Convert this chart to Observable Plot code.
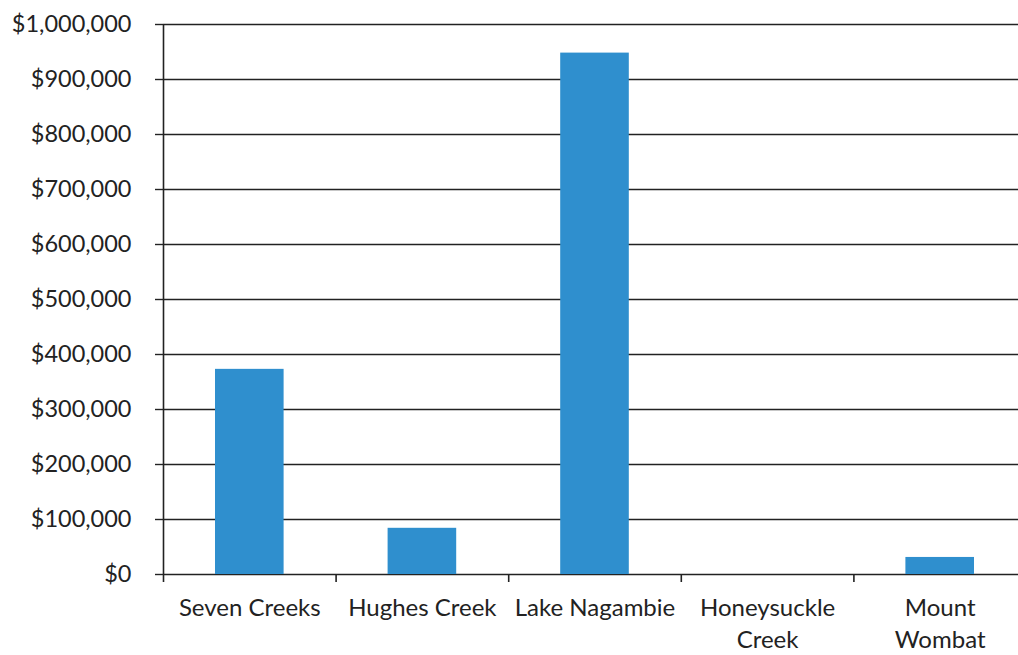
<!DOCTYPE html>
<html>
<head>
<meta charset="utf-8">
<script src="https://cdn.jsdelivr.net/npm/d3@7"></script>
<script src="https://cdn.jsdelivr.net/npm/@observablehq/plot@0.6"></script>
<style>
  html, body { margin: 0; padding: 0; background: #fff; overflow: hidden; }
  #chart svg { display: block; }
</style>
</head>
<body>
<div id="chart"></div>
<script>
const categories = ["Seven Creeks", "Hughes Creek", "Lake Nagambie", "Honeysuckle Creek", "Mount Wombat"];
const tickLabels = ["Seven Creeks", "Hughes Creek", "Lake Nagambie", "Honeysuckle\nCreek", "Mount\nWombat"];
const values = [373000, 84000, 948000, 0, 31000];
const yTicks = [0, 100000, 200000, 300000, 400000, 500000, 600000, 700000, 800000, 900000, 1000000];

const data = categories.map((name, i) => ({name, i, value: values[i]}));
const boundaries = d3.range(categories.length + 1);
const centers = d3.range(categories.length).map(i => i + 0.5);

const fontFamily = "Lato, 'Open Sans', sans-serif";
const ink = "#222";

const chart = Plot.plot({
  width: 1018,
  height: 655,
  marginTop: 24,
  marginBottom: 81,
  marginLeft: 163,
  marginRight: -8,
  style: {fontFamily, fontSize: "23px", color: ink, background: "#fff", overflow: "hidden"},
  x: {type: "linear", domain: [0, categories.length], label: null},
  y: {domain: [0, 1000000], label: null},
  marks: [
    Plot.gridY(yTicks, {stroke: ink, strokeOpacity: 1, strokeWidth: 1.4}),
    Plot.rectY(data, {x1: "i", x2: d => d.i + 1, y: "value", fill: "#2f8fce", insetLeft: 52, insetRight: 52}),
    Plot.ruleX([0], {stroke: ink, strokeWidth: 1.6}),
    Plot.axisY({ticks: yTicks, tickSize: 8, tickPadding: 24, stroke: ink, strokeWidth: 1.4, label: null,
      tickFormat: d => "$" + d3.format(",")(d), fontSize: 23.5, fill: ink}),
    Plot.axisX({ticks: boundaries, tickSize: 8, tickFormat: () => "", stroke: ink, strokeWidth: 1.6, label: null}),
    Plot.axisX({ticks: centers, tickSize: 0, tickPadding: 19, lineHeight: 1.33, label: null,
      tickFormat: d => tickLabels[Math.floor(d)], fontSize: 24, fill: ink})
  ]
});
document.getElementById("chart").append(chart);
</script>
</body>
</html>
